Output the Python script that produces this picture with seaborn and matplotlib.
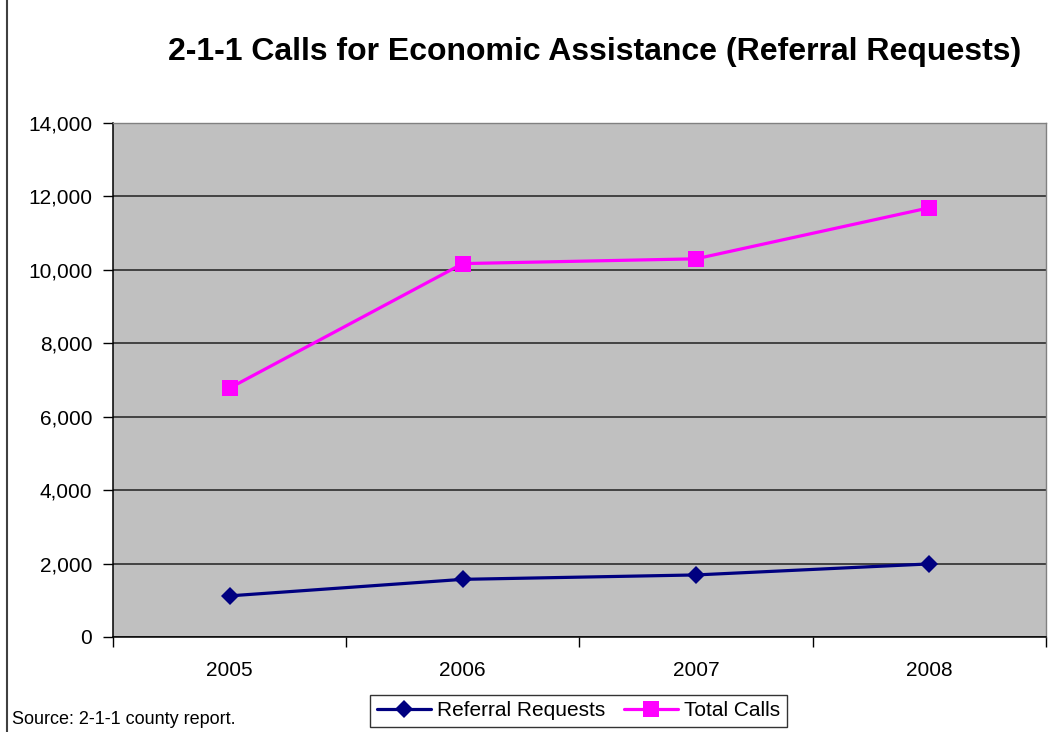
import pandas as pd
import matplotlib.pyplot as plt
import seaborn as sns
from matplotlib.lines import Line2D
from matplotlib.ticker import FuncFormatter, FixedLocator

years = ['2005', '2006', '2007', '2008']
referral_requests = [1120, 1570, 1690, 1990]
total_calls = [6780, 10170, 10300, 11690]
series_names = ['Referral Requests', 'Total Calls']
colors = ['#000080', '#FF00FF']
markers = ['D', 's']

# long-form table for seaborn
data = pd.DataFrame({
    'pos': list(range(len(years))) * 2,
    'calls': referral_requests + total_calls,
    'series': [series_names[0]] * len(years) + [series_names[1]] * len(years),
})

sns.set_style('white')
plt.rcParams['font.family'] = ['Liberation Sans', 'DejaVu Sans']
plt.rcParams['text.color'] = 'black'
plt.rcParams['xtick.color'] = 'black'
plt.rcParams['ytick.color'] = 'black'

fig = plt.figure(figsize=(10.5, 7.32), dpi=100)
ax = fig.add_axes([0.1076, 0.1298, 0.8884, 0.7022])
ax.set_facecolor('#C0C0C0')

sns.lineplot(data=data, x='pos', y='calls', hue='series', style='series',
             palette=dict(zip(series_names, colors)),
             markers=dict(zip(series_names, markers)), dashes=False,
             linewidth=2.3, markersize=11, markeredgewidth=0,
             legend=False, ax=ax)

# diamond drawn a bit smaller than the square
for line, m in zip(ax.lines, markers):
    line.set_markersize(9.5 if m == 'D' else 12)

ax.set_xlim(-0.5, len(years) - 0.5)
ax.set_ylim(0, 14000)
ax.set_yticks(range(0, 14001, 2000))
ax.yaxis.set_major_formatter(FuncFormatter(lambda v, p: f'{int(v):,}'))
ax.grid(axis='y', color='#202020', linewidth=1.1)
ax.set_axisbelow(True)

# category axis: ticks between categories, labels centred
ax.xaxis.set_major_locator(FixedLocator([i - 0.5 for i in range(len(years) + 1)]))
ax.xaxis.set_minor_locator(FixedLocator(list(range(len(years)))))
ax.set_xticklabels([''] * (len(years) + 1))
ax.set_xticklabels(years, minor=True)
ax.tick_params(axis='x', which='major', direction='out', length=7, width=1, color='black', bottom=True)
ax.tick_params(axis='x', which='minor', length=0, pad=17, labelsize=15, labelcolor='black')
ax.tick_params(axis='y', direction='out', length=7, width=1, color='black', left=True,
               labelsize=15, labelcolor='black', pad=8)
ax.set_xlabel('')
ax.set_ylabel('')

for side in ['left', 'bottom']:
    ax.spines[side].set_color('black')
    ax.spines[side].set_linewidth(1.1)
for side in ['top', 'right']:
    ax.spines[side].set_color('#808080')
    ax.spines[side].set_linewidth(1)

fig.text(0.566, 0.929, '2-1-1 Calls for Economic Assistance (Referral Requests)',
         ha='center', va='center', fontsize=23, fontweight='bold', color='black')
fig.text(0.011, 0.006, 'Source: 2-1-1 county report.', ha='left', va='bottom',
         fontsize=13, color='black')

handles = [Line2D([], [], color=c, marker=m, linewidth=2.3,
                  markersize=(9.5 if m == 'D' else 11), markeredgewidth=0)
           for c, m in zip(colors, markers)]
leg = fig.legend(handles, series_names, loc='center', bbox_to_anchor=(0.551, 0.029),
                 ncol=2, fontsize=15, frameon=True, fancybox=False,
                 handlelength=2.6, columnspacing=0.9, handletextpad=0.3,
                 borderpad=0.3, borderaxespad=0)
leg.get_frame().set_edgecolor('black')
leg.get_frame().set_linewidth(1)

# chart-area border on the left
fig.add_artist(Line2D([0.0071, 0.0071], [0, 1], transform=fig.transFigure,
                      color='#404040', linewidth=1.5))

fig.savefig('out.png', dpi=100)
